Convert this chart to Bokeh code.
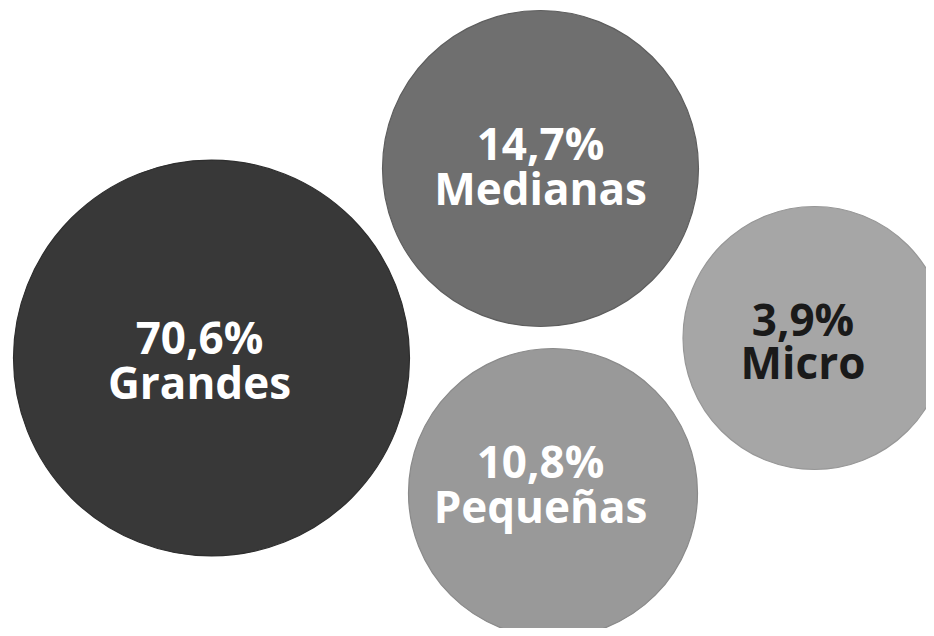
from bokeh.plotting import figure
from bokeh.models import ColumnDataSource, Range1d
from bokeh.core.properties import value
from bokeh.embed import file_html
from bokeh.resources import INLINE

# ---- data ----
categories = ["Grandes", "Medianas", "Pequeñas", "Micro"]
shares = [70.6, 14.7, 10.8, 3.9]
share_labels = ["70,6%", "14,7%", "10,8%", "3,9%"]

# ---- bubble layout (packed, in plot units = pixels) ----
bubble_x = [211, 540, 552.5, 814]
bubble_y = [270.5, 460, 135.5, 290.5]
bubble_r = [198, 158, 144.5, 131.5]
label_x = [199, 540, 540, 802.5]
label_y1 = [292, 486, 168, 310]
label_y2 = [247, 441, 123, 267]

# ---- styles ----
fills = ["#383838", "#6f6f6f", "#999999", "#a6a6a6"]
edges = ["#2e2e2e", "#5e5e5e", "#8a8a8a", "#979797"]
text_colors = ["#ffffff", "#ffffff", "#ffffff", "#1a1a1a"]

src = ColumnDataSource(dict(
    cat=categories, share=shares, lab=share_labels,
    x=bubble_x, y=bubble_y, r=bubble_r,
    lx=label_x, ly1=label_y1, ly2=label_y2,
    fill=fills, edge=edges, tc=text_colors,
))

W, H = 926, 628
p = figure(width=W, height=H, output_backend="svg", toolbar_location=None,
           x_range=Range1d(0, W), y_range=Range1d(0, H), min_border=0)
p.axis.visible = False
p.grid.visible = False
p.outline_line_color = None
p.background_fill_color = "#ffffff"
p.border_fill_color = "#ffffff"

p.circle(x="x", y="y", radius="r", fill_color="fill", line_color="edge",
         line_width=1.2, source=src)

font = value("Open Sans")
p.text(x="lx", y="ly1", text="lab", text_color="tc", text_font=font,
       text_font_style="bold", text_font_size="44px", text_align="center",
       text_baseline="alphabetic", source=src)
p.text(x="lx", y="ly2", text="cat", text_color="tc", text_font=font,
       text_font_style="bold", text_font_size="44px", text_align="center",
       text_baseline="alphabetic", source=src)

open("out.html", "w").write(file_html(p, INLINE))
